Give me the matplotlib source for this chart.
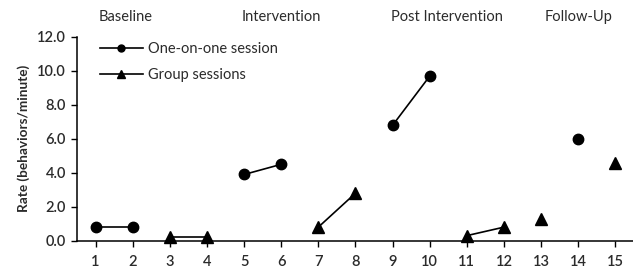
import numpy as np
import matplotlib
matplotlib.use("Agg")
import matplotlib.pyplot as plt
from matplotlib.lines import Line2D

plt.rcParams['font.family'] = ['Lato', 'DejaVu Sans']

# One-on-one sessions: session numbers, values, segment ids (points in same segment are joined)
one_sessions = [1, 2, 5, 6, 9, 10, 14]
one_values = [0.8, 0.8, 3.9, 4.5, 6.8, 9.7, 6.0]
one_segments = [0, 0, 1, 1, 2, 2, 3]

# Group sessions
grp_sessions = [3, 4, 7, 8, 11, 12, 13, 15]
grp_values = [0.2, 0.2, 0.8, 2.8, 0.3, 0.8, 1.3, 4.6]
grp_segments = [0, 0, 1, 1, 2, 2, 3, 4]

phase_labels = ["Baseline", "Intervention", "Post Intervention", "Follow-Up"]
phase_centers = [1.8, 6.0, 10.45, 14.0]

x_ticks = list(range(1, 16))
y_ticks = [0, 2, 4, 6, 8, 10, 12]

fig = plt.figure(figsize=(6.33, 2.70), dpi=100)
ax = fig.add_axes([0.1216, 0.1085, 0.88, 0.7545])

txt = '#2b2b2b'

def draw(sessions, values, segs, marker, ms):
    sessions = np.array(sessions); values = np.array(values); segs = np.array(segs)
    for s in np.unique(segs):
        m = segs == s
        ax.plot(sessions[m], values[m], color='black', lw=1.2, marker=marker, ms=ms,
                clip_on=False, zorder=3)

draw(one_sessions, one_values, one_segments, 'o', 7.5)
draw(grp_sessions, grp_values, grp_segments, '^', 8)

ax.set_xlim(0.5, 15.5)
ax.set_ylim(0, 12)
ax.set_xticks(x_ticks)
ax.set_xticklabels([str(v) for v in x_ticks])
ax.set_yticks(y_ticks)
ax.set_yticklabels([f"{v:.1f}" for v in y_ticks])
ax.tick_params(axis='both', labelsize=10.5, colors='black', labelcolor=txt, length=4, width=1)
ax.tick_params(axis='x', pad=6)
ax.tick_params(axis='y', pad=4)
for lbl in ax.get_xticklabels() + ax.get_yticklabels():
    lbl.set_fontweight('semibold')
for s in ['top', 'right']:
    ax.spines[s].set_visible(False)
for s in ['left', 'bottom']:
    ax.spines[s].set_linewidth(1.1)
ax.set_ylabel("Rate (behaviors/minute)", fontsize=9.8, fontweight='bold', color=txt, labelpad=5)

for lab, xc in zip(phase_labels, phase_centers):
    ax.text(xc, 13.2, lab, ha='center', va='center', fontsize=10.5, color=txt, clip_on=False)

handles = [Line2D([], [], color='black', lw=1.2, marker='o', ms=5),
           Line2D([], [], color='black', lw=1.2, marker='^', ms=6)]
leg = ax.legend(handles, ['One-on-one session', 'Group sessions'], loc='upper left',
                bbox_to_anchor=(0.03, 1.005), frameon=False, fontsize=10.5,
                handlelength=3.0, handletextpad=0.3, labelspacing=0.85, borderaxespad=0)
for t in leg.get_texts():
    t.set_color(txt)

fig.savefig("out.png", dpi=100)
